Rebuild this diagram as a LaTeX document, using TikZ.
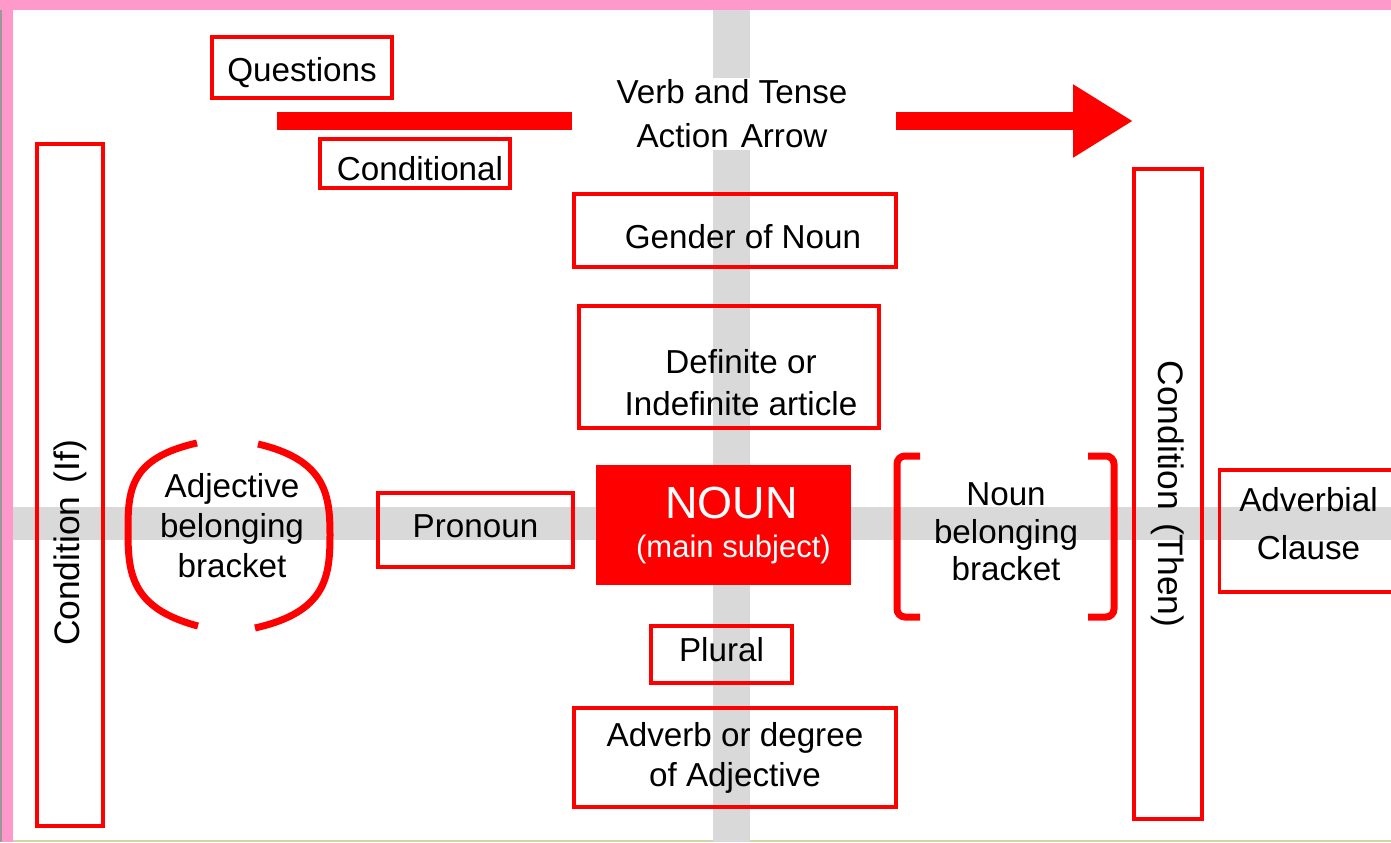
\documentclass[tikz,border=0pt]{standalone}
\usepackage{fontspec}
\setmainfont{Liberation Sans}
\usetikzlibrary{positioning,arrows.meta}

\definecolor{framepink}{RGB}{255,153,204}
\definecolor{bandgray}{RGB}{217,217,217}
\definecolor{edgegray}{RGB}{153,153,153}
\definecolor{baseolive}{RGB}{212,212,170}
\definecolor{nounred}{RGB}{255,0,0}

\begin{document}
\begin{tikzpicture}[
    x=0.5pt, y=-0.5pt,
    font=\fontsize{16.6pt}{20pt}\selectfont,
    box/.style   ={draw=nounred, line width=1.6pt, inner sep=0pt, align=center},
    vbox/.style  ={box, font=\fontsize{17.7pt}{21pt}\selectfont},
    txt/.style   ={align=center, inner sep=0pt},
    band/.style  ={fill=bandgray},
    actbar/.style={draw=nounred, line width=9pt},
    brack/.style ={draw=nounred, line width=3.5pt},
]
\useasboundingbox (0,0) rectangle (1391,842);
\clip (0,0) rectangle (1391,842);

% =========================================================
% Frame and grey cross
% =========================================================
\fill[framepink] (0,0) rectangle (1391,10);
\fill[framepink] (0,0) rectangle (13,842);
\fill[edgegray]  (0,10) rectangle (2,842);
\fill[baseolive] (13,840) rectangle (1391,842);

\fill[band] (713,10) rectangle (750,842);
\fill[band] (13,507) rectangle (1391,540);

% =========================================================
% Top: verb and tense arrow
% =========================================================
\node[box, minimum width=90pt, minimum height=30.5pt,
      text height=15pt, text depth=1pt] (quest) at (302,67.5) {Questions};
\node[box, minimum width=95pt, minimum height=24.5pt,
      text height=17pt, text depth=0pt] (cond) at (415,163.5) {\hspace*{5pt}Conditional};
\node[txt, fill=white, inner ysep=1pt] (verb) at (732,114)
    {Verb and Tense\\[2pt]Action\hspace{6pt}Arrow};

\coordinate (vstart) at (277,121);
\coordinate (vend)   at (1133,121);
\draw[actbar, shorten >=22pt] (vstart) -- (vstart -| verb.west);
\draw[actbar, -{Triangle[length=30pt, width=34.5pt]}, shorten <=24pt]
    (vstart -| verb.east) -- (vend);

% =========================================================
% Centre column
% =========================================================
\node[box, minimum width=161pt, minimum height=36.5pt,
      text height=18pt, text depth=0pt] (gender) at (735,230.5) {\hspace*{8pt}Gender of Noun};
\node[box, minimum width=150pt, minimum height=61pt,
      label={[txt, shift={(6pt,-8pt)}]center:Definite or\\[1pt]Indefinite article}]
      (art) at (729,367) {};
\node[fill=nounred, text=white, inner sep=0pt, align=center,
      minimum width=127.5pt, minimum height=60pt,
      font=\fontsize{15.5pt}{19.5pt}\selectfont] (noun) at (723.5,525)
    {\hspace*{8pt}{\fontsize{22.5pt}{24pt}\selectfont NOUN}\\\hspace*{10pt}(main subject)};
\node[box, minimum width=70.5pt, minimum height=28.5pt,
      text depth=5pt] (plural) at (721.5,654.5) {Plural};
\node[box, minimum width=161pt, minimum height=49.5pt] (advb) at (735,757.5)
    {Adverb or degree\\of Adjective};

% =========================================================
% Left side
% =========================================================
\node[vbox, rotate=90, minimum width=341pt, minimum height=33pt] (condif) at (70,485)
    {Condition\hspace{6.5pt}(If)\hspace*{58pt}};
\node[txt] (adjtxt) at (232,526) {Adjective\\belonging\\bracket};
\node[box, minimum width=97.5pt, minimum height=37pt,
      text depth=4pt] (pron) at (475.5,530) {Pronoun};

\draw[brack] (197,443) .. controls (130,458) and (128,490) .. (128,530)
             .. controls (128,572) and (130,608) .. (198,626);
\draw[brack] (258,444) .. controls (326,460) and (330,495) .. (330,535)
             .. controls (330,577) and (326,612) .. (255,628);

% =========================================================
% Right side
% =========================================================
\node[txt] (nountxt) at (1006,532) {Noun\\[-1.25pt]belonging\\[-1.25pt]bracket};
\draw[brack, rounded corners=4pt] (920,456) -- (897,456) -- (897,617) -- (920,617);
\draw[brack, rounded corners=4pt] (1088,456) -- (1114,456) -- (1114,617) -- (1088,617);

\node[vbox, rotate=-90, minimum width=325pt, minimum height=34pt] (condthen) at (1168,494)
    {Condition\hspace{6.5pt}(Then)};
\node[box, minimum width=89pt, minimum height=61pt,
      label={[txt, shift={(0pt,3.5pt)}]center:Adverbial\\[4pt]Clause}]
      (advcl) at (1308.5,531) {};

\end{tikzpicture}
\end{document}
